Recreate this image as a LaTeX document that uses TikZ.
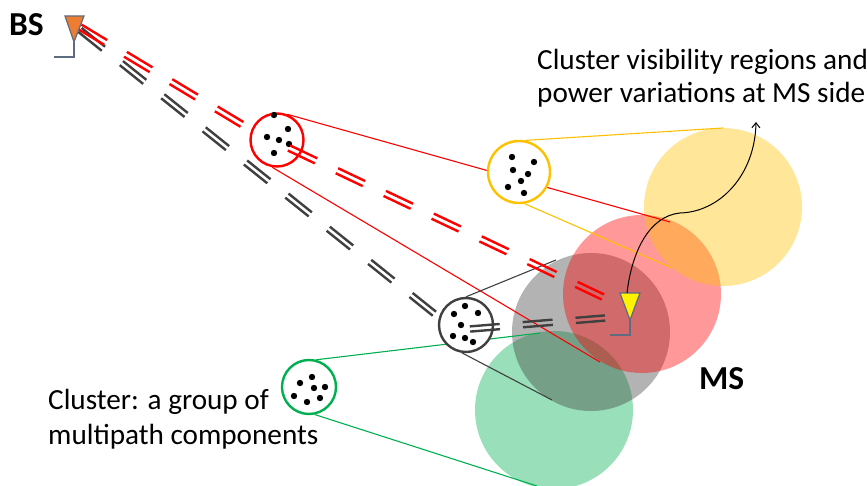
\documentclass[tikz,border=0pt]{standalone}
\usepackage{amsmath}
\usepackage{amssymb}
\usepackage{fontspec}
\usepackage{xcolor}
\usetikzlibrary{calc,arrows.meta,backgrounds}
\setmainfont{Carlito}

\definecolor{redray}{HTML}{FF0000}
\definecolor{grayray}{HTML}{404040}
\definecolor{goldcl}{HTML}{FFC000}
\definecolor{greencl}{HTML}{00B050}
\definecolor{antline}{HTML}{5F6B7E}
\definecolor{bsfill}{HTML}{ED7D31}

\tikzset{
    area/.style={circle,inner sep=0pt,minimum size=158pt,fill opacity=0.4},
    cluster/.style={circle,inner sep=0pt,draw,fill=white,line width=2.4pt},
    dot/.style={circle,inner sep=0pt,fill=black,minimum size=6.4pt},
    ray/.style={line width=2.4pt,dash pattern=on 30pt off 23pt},
    label/.style={inner sep=0pt,anchor=west,align=left,font=\fontsize{29.2}{33}\selectfont},
    station/.style={inner sep=0pt,anchor=west,font=\fontsize{33.5}{36}\selectfont\bfseries},
    antenna/.style={draw=antline,line width=1.2pt}
}

\begin{document}
\begin{tikzpicture}[x=1pt,y=-1pt]
    \useasboundingbox (0,0) rectangle (867,486);

    \node[cluster,draw=redray,minimum size=53pt] (redcl) at (277,140) {};
    \node[cluster,draw=goldcl,minimum size=62pt] (goldcl) at (519,172) {};
    \node[cluster,draw=grayray,minimum size=54pt] (graycl) at (466,325) {};
    \node[cluster,draw=greencl,minimum size=54pt] (greencl) at (309,387) {};

    \coordinate (redtop) at (670,222);
    \coordinate (redbot) at (600,362);
    \coordinate (goldtop) at (723,128);
    \coordinate (goldbot) at (672,268);
    \coordinate (graytop) at (556,260);
    \coordinate (graybot) at (552,400);
    \coordinate (greentop) at (540,333);
    \coordinate (greenbot) at (537,486);

    % areas and tangents go under the cluster circles
    \begin{pgfonlayer}{background}
    \clip (0,0) rectangle (867,486);
    \node[area,fill=greencl] (greenarea) at (554,410) {};
    \node[area,fill=grayray] (grayarea) at (591,332) {};
    \node[area,fill=redray] (redarea) at (642,294) {};
    \node[area,fill=goldcl] (goldarea) at (723,207) {};
    \draw[redray,line width=1.1pt] (redcl.68) -- (redtop);
    \draw[redray,line width=1.1pt] (redcl.260) -- (redbot);
    \draw[goldcl,line width=1.1pt] (goldcl.79) -- (goldtop);
    \draw[goldcl,line width=1.1pt] (goldcl.280) -- (goldbot);
    \draw[grayray,line width=1.1pt] (graycl.90) -- (graytop);
    \draw[grayray,line width=1.1pt] (graycl.262) -- (graybot);
    \draw[greencl,line width=1.1pt] (greencl.75) -- (greentop);
    \draw[greencl,line width=1.1pt] (greencl.282) -- (greenbot);
    \end{pgfonlayer}

    \node[dot] (r1) at (274,115) {};
    \node[dot] (r2) at (288,129) {};
    \node[dot] (r3) at (267,137) {};
    \node[dot] (r4) at (279,140) {};
    \node[dot] (r5) at (289,144) {};
    \node[dot] (r6) at (274,153) {};

    \node[dot] (y1) at (512,157) {};
    \node[dot] (y2) at (534,162) {};
    \node[dot] (y3) at (513,170) {};
    \node[dot] (y4) at (528,174) {};
    \node[dot] (y5) at (521,181) {};
    \node[dot] (y6) at (508,187) {};
    \node[dot] (y7) at (524,193) {};

    \node[dot] (k1) at (465,306) {};
    \node[dot] (k2) at (454,314) {};
    \node[dot] (k3) at (478,313) {};
    \node[dot] (k4) at (461,325) {};
    \node[dot] (k5) at (453,336) {};
    \node[dot] (k6) at (465,338) {};
    \node[dot] (k7) at (473,342) {};

    \node[dot] (g1) at (312,377) {};
    \node[dot] (g2) at (300,383) {};
    \node[dot] (g3) at (314,388) {};
    \node[dot] (g4) at (325,387) {};
    \node[dot] (g5) at (294,396) {};
    \node[dot] (g6) at (307,402) {};
    \node[dot] (g7) at (320,398) {};

    \coordinate (bsred) at (80,27);
    \coordinate (redend) at (243,125);
    \coordinate (redstart) at (289,148);
    \coordinate (msred) at (603,297);
    \coordinate (bsgray) at (80,30);
    \coordinate (grayend) at (436,315);
    \coordinate (graystart) at (470,329);
    \coordinate (msgray) at (605,318);

    \draw[ray,grayray] ($(bsgray)!2.6pt!90:(grayend)$) -- ($(grayend)!2.6pt!-90:(bsgray)$);
    \draw[ray,grayray] ($(bsgray)!2.6pt!-90:(grayend)$) -- ($(grayend)!2.6pt!90:(bsgray)$);
    \draw[ray,grayray] ($(graystart)!2.6pt!90:(msgray)$) -- ($(msgray)!2.6pt!-90:(graystart)$);
    \draw[ray,grayray] ($(graystart)!2.6pt!-90:(msgray)$) -- ($(msgray)!2.6pt!90:(graystart)$);
    \draw[ray,redray] ($(bsred)!2.8pt!90:(redend)$) -- ($(redend)!2.8pt!-90:(bsred)$);
    \draw[ray,redray] ($(bsred)!2.8pt!-90:(redend)$) -- ($(redend)!2.8pt!90:(bsred)$);
    \draw[ray,redray] ($(redstart)!2.8pt!90:(msred)$) -- ($(msred)!2.8pt!-90:(redstart)$);
    \draw[ray,redray] ($(redstart)!2.8pt!-90:(msred)$) -- ($(msred)!2.8pt!90:(redstart)$);

    % antennas
    \draw[antenna] (74,42) -- (74,57) -- (54,57);
    \draw[antenna,fill=bsfill] (65,16) -- (84,16) -- (74,42) -- cycle;
    \draw[antenna] (630,320) -- (630,335) -- (610,335);
    \draw[antenna,fill=yellow] (620,293) -- (640,293) -- (630,320) -- cycle;

    \coordinate (mstop) at (627,293);
    \coordinate (trackend) at (756,122);
    \draw[black,line width=1pt,-{Straight Barb[length=5pt,width=8pt]}] (mstop) .. controls (632,250) and (650,216) .. (680,213) .. controls (720,212) and (755,175) .. (trackend);

    \node[station] (bs) at (9,25) {BS};
    \node[station] (ms) at (699,379) {MS};
    \node[label] (vis) at (537,78) {Cluster visibility regions and\\power variations at MS side};
    \node[label] (clus) at (48,419) {Cluster: a group of\\[2pt]multipath components};
\end{tikzpicture}
\end{document}
